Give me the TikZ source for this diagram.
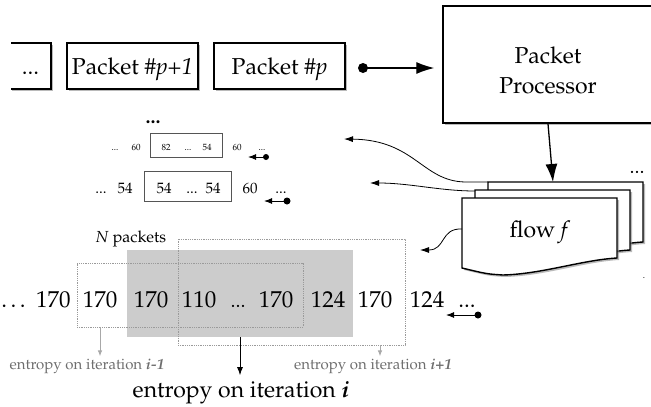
\documentclass[tikz,border=0pt]{standalone}
\usepackage[T1]{fontenc}
\usepackage{mathpazo}
\usetikzlibrary{arrows.meta,shadows,calc}

\definecolor{winfill}{HTML}{CCCCCC}
\definecolor{dotline}{HTML}{9A9A9A}
\definecolor{sidelabel}{HTML}{6E6E6E}
\definecolor{sidearrow}{HTML}{A8A8A8}
\definecolor{seqframe}{HTML}{555555}

\newcommand{\bigtxt}{\fontsize{23}{30}\selectfont}
\newcommand{\dotstxt}{\fontsize{20}{24}\selectfont}
\newcommand{\midtxt}{\fontsize{15}{18}\selectfont}
\newcommand{\tinytxt}{\fontsize{9}{11}\selectfont}
\newcommand{\iter}[1]{\textbf{\textit{#1}}}

\tikzset{
  pbox/.style={draw, line width=1.4pt, fill=white, inner sep=0pt,
    minimum height=46pt, font=\bigtxt, text height=20pt, text depth=4pt,
    drop shadow={shadow xshift=2pt, shadow yshift=-2pt, fill=black!45, opacity=0.6}},
  sheet/.style={draw, line width=1.4pt, fill=white,
    drop shadow={shadow xshift=2pt, shadow yshift=-2pt, fill=black!45, opacity=0.6}},
  bigarrow/.style={line width=1.3pt, -{Latex[length=18pt,width=12pt]}},
  flowarrow/.style={line width=0.8pt, -{Latex[length=9pt,width=6pt]}},
  dirarrow/.style={line width=1pt, -{Latex[length=8pt,width=6pt]}},
  graydir/.style={line width=0.9pt, draw=sidearrow, -{Latex[length=6pt,width=4.5pt]}},
  seqbox/.style={draw=seqframe, line width=0.9pt, inner sep=0pt},
  winbox/.style={draw=dotline, densely dotted, line width=0.8pt, inner sep=0pt},
  big/.style={font=\bigtxt, anchor=base, inner sep=0pt},
  dotsb/.style={font=\dotstxt, anchor=base, inner sep=0pt},
  mid/.style={font=\midtxt, anchor=base, inner sep=0pt},
  tiny/.style={font=\tinytxt, anchor=base, inner sep=0pt},
  dot/.style={circle, fill, inner sep=0pt},
}

\begin{document}
\begin{tikzpicture}[x=1pt, y=1pt]
\useasboundingbox (0,0) rectangle (651,-407);
\clip (0,0) rectangle (651,-407);

% ---------- incoming packets ----------
\begin{scope}
  \clip (11,0) rectangle (70,-100);
  \node[pbox, minimum width=41pt] (more) at (30.5,-66) {...};
\end{scope}
\node[pbox, minimum width=131pt] (pnext) at (132.5,-66) {Packet \#\textit{p+1}};
\node[pbox, minimum width=131pt] (pcur)  at (279.5,-66) {Packet \#\textit{p}};

% ---------- packet processor ----------
\node[draw, line width=1.4pt, fill=white, minimum width=210pt, minimum height=117pt,
      drop shadow={shadow xshift=2pt, shadow yshift=-2pt, fill=black!45, opacity=0.6}]
      (pp) at (548,-64.5) {};
\node[font=\bigtxt, align=center, inner sep=0pt] (pplabel) at (548,-70) {Packet\\Processor};

\node[dot, minimum size=10pt] (src) at (363,-68) {};
\draw[bigarrow, shorten >=8pt] (src.center) -- (pp.west |- src);

% ---------- per-flow sheets ----------
\newcommand{\flowsheet}[2]{%
  \begin{scope}[shift={(#1,#2)}]
    \path[sheet] (0,0) -- (155,0) -- (155,-60)
      .. controls (120,-62) and (80,-76) .. (41,-77)
      .. controls (25,-76) .. (0,-70) -- cycle;
  \end{scope}}
\flowsheet{488}{-182}
\flowsheet{475}{-190}
\flowsheet{462}{-198}
\coordinate (backtop) at (553,-182);
\coordinate (backW)  at (488,-182);
\coordinate (midW)   at (475,-191);
\coordinate (frontW) at (462,-229);
\node[big] (flowlabel) at (540,-237) {flow \textit{f}};
\node[dotsb] (moreflows) at (637,-173) {...};
\node[tiny] (stray) at (644,-278) {.};

\draw[bigarrow] (pp.south) -- (backtop);

% ---------- outputs of the flow sheets ----------
\coordinate (tipA) at (344,-139);
\coordinate (tipB) at (370,-183);
\coordinate (tipC) at (420,-250);
\draw[flowarrow] (backW) -- (465,-182) .. controls (422,-181) and (415,-140) .. (tipA);
\draw[flowarrow] (midW) .. controls (440,-191) and (410,-183) .. (tipB);
\draw[flowarrow] (frontW) .. controls (440,-228) and (446,-250) .. (tipC);

% ---------- compact sequences ----------
\node[dotsb, font=\bfseries\dotstxt] (upper) at (153,-123) {...};

\node[seqbox, minimum width=72pt, minimum height=24pt] (s1) at (186,-145) {};
\node[tiny] at (115,-150) {...};
\node[tiny] at (136,-150) {60};
\node[tiny] at (166,-150) {82};
\node[tiny] at (188,-150) {...};
\node[tiny] at (207,-150) {54};
\node[tiny] at (237,-150) {60};
\node[tiny] at (262,-150) {...};
\node[dot, minimum size=6pt] (d1) at (266,-157) {};
\draw[dirarrow] (d1.center) -- ++(-18,0) coordinate (e1);

\node[seqbox, minimum width=87pt, minimum height=30pt] (s2) at (187.5,-186) {};
\node[mid] at (101,-193) {...};
\node[mid] at (125,-193) {54};
\node[mid] at (164,-193) {54};
\node[mid] at (192,-193) {...};
\node[mid] at (213,-193) {54};
\node[mid] at (250,-193) {60};
\node[mid] at (281,-193) {...};
\node[dot, minimum size=7pt] (d2) at (287,-201) {};
\draw[dirarrow] (d2.center) -- ++(-23,0) coordinate (e2);

% ---------- sliding windows ----------
\node[fill=winfill, minimum width=226pt, minimum height=87pt, inner sep=0pt] (win) at (240,-293.5) {};
\node[winbox, minimum width=226pt, minimum height=64pt] (wprev) at (190,-295) {};
\node[winbox, minimum width=227pt, minimum height=106pt] (wnext) at (291.5,-292) {};

\node[font=\fontsize{16}{19}\selectfont, anchor=base, inner sep=0pt] (npk) at (131,-242) {\textit{N} packets};

\node[big] at (36,-307) {\dots{} 170};
\node[big] at (100,-307) {170};
\node[big] at (151,-307) {170};
\node[big] at (199,-307) {110};
\node[dotsb] at (238,-307) {...};
\node[big] at (276,-307) {170};
\node[big] at (328,-307) {124};
\node[big] at (375,-307) {170};
\node[big] at (427,-307) {124};
\node[big] at (467,-307) {...};
\node[dot, minimum size=7pt] (d3) at (478,-315) {};
\draw[dirarrow] (d3.center) -- ++(-32,0) coordinate (e3);

% ---------- entropy outputs ----------
\coordinate (prevfoot) at (wprev.south west -| 100,0);
\coordinate (nextfoot) at (wnext.south west -| 380,0);
\draw[graydir] (prevfoot) -- ++(0,-29);
\draw[graydir] (nextfoot) -- ++(0,-11);
\draw[line width=0.9pt, -{Latex[length=8pt,width=6pt]}] (win.south) -- ++(0,-38);

\node[mid, text=sidelabel] (hprev) at (87,-369) {entropy on iteration \iter{i-1}};
\node[mid, text=sidelabel] (hnext) at (373,-369) {entropy on iteration \iter{i+1}};
\node[big] (hcur) at (241,-397) {entropy on iteration \iter{i}};
\end{tikzpicture}
\end{document}
